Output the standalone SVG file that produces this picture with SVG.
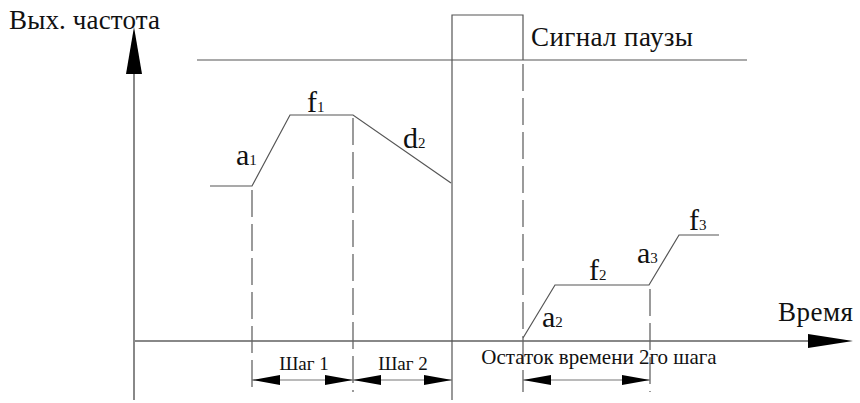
<svg xmlns="http://www.w3.org/2000/svg" width="860" height="403" viewBox="0 0 860 403">
<style>
text{font-family:"Liberation Serif","DejaVu Serif","Times New Roman",serif;fill:#111}
.big{font-size:27px}
.lab{font-size:30px}
.sub{font-size:15px}
.sm{font-size:19px}
.ln{stroke:#555;stroke-width:1.2;fill:none}
.ax{stroke:#888;stroke-width:2;fill:none}
.ds{stroke:#666;stroke-width:1.3;fill:none;stroke-dasharray:27 7}
.dim{stroke:#777;stroke-width:1.2;fill:none}
</style>
<defs>
<marker id="ah" markerWidth="30" markerHeight="12" refX="28" refY="5" orient="auto" markerUnits="userSpaceOnUse">
<path d="M0,0 L28,5 L0,10 Z" fill="#000"/>
</marker>
<marker id="ahs" markerWidth="30" markerHeight="12" refX="28" refY="5" orient="auto-start-reverse" markerUnits="userSpaceOnUse">
<path d="M0,0 L28,5 L0,10 Z" fill="#000"/>
</marker>
</defs>
<rect width="860" height="403" fill="#fff"/>
<g id="axes">
<line class="ax" x1="134" y1="400" x2="134" y2="70"/>
<path d="M134,27 L142,74 L126,74 Z" fill="#000"/>
<line class="ax" x1="134" y1="341" x2="812" y2="341"/>
<path d="M853,341 L808,334 L808,348 Z" fill="#000"/>
<text class="big" x="9" y="29" textLength="151">Вых. частота</text>
<text class="big" x="778" y="321" textLength="75">Время</text>
</g>
<g id="pause">
<line class="ln" x1="197" y1="60" x2="747" y2="60"/>
<path class="ln" d="M452,400 L452,15 L523,15 L523,60"/>
<text class="big" x="531" y="46" textLength="162">Сигнал паузы</text>
</g>
<g id="curve1">
<polyline class="ln" points="210,186 252,186 290,115 353,115 451,183"/>
<text class="lab" x="236" y="165">a<tspan class="sub">1</tspan></text>
<text class="lab" x="307" y="112">f<tspan class="sub">1</tspan></text>
<text class="lab" x="403" y="148">d<tspan class="sub">2</tspan></text>
</g>
<g id="curve2">
<polyline class="ln" points="523,338 555,285 649,285 679,235 719,235"/>
<text class="lab" x="542" y="327">a<tspan class="sub">2</tspan></text>
<text class="lab" x="589" y="280">f<tspan class="sub">2</tspan></text>
<text class="lab" x="637" y="263">a<tspan class="sub">3</tspan></text>
<text class="lab" x="689" y="230">f<tspan class="sub">3</tspan></text>
</g>
<g id="guides">
<line class="ds" x1="252" y1="190" x2="252" y2="392"/>
<line class="ds" x1="353" y1="118" x2="353" y2="392"/>
<line class="ds" x1="523" y1="64" x2="523" y2="392"/>
<line class="ds" x1="650" y1="289" x2="650" y2="392"/>
</g>
<g id="connectors">
<line class="dim" x1="252" y1="380" x2="353" y2="380" marker-start="url(#ahs)" marker-end="url(#ah)"/>
<line class="dim" x1="353" y1="380" x2="452" y2="380" marker-start="url(#ahs)" marker-end="url(#ah)"/>
<line class="dim" x1="523" y1="380" x2="650" y2="380" marker-start="url(#ahs)" marker-end="url(#ah)"/>
</g>
<g id="labels">
<text class="sm" x="304" y="370" text-anchor="middle">Шаг 1</text>
<text class="sm" x="403" y="370" text-anchor="middle">Шаг 2</text>
<text x="599" y="364" text-anchor="middle" font-size="21">Остаток времени 2го шага</text>
</g>
</svg>
